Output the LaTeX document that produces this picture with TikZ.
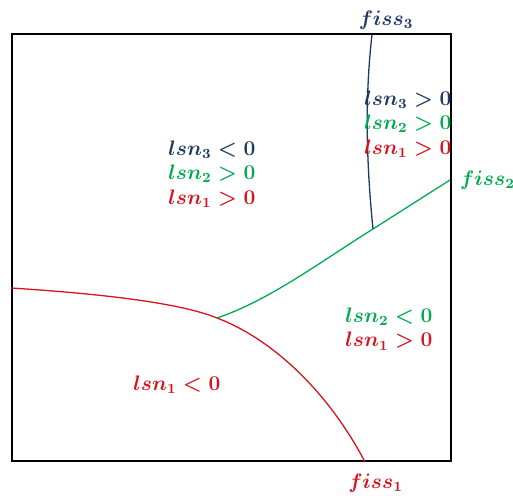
\documentclass[tikz,border=0pt]{standalone}
\usepackage{amsmath}
\usepackage{xcolor}
\usetikzlibrary{positioning}
\definecolor{fblue}{RGB}{31,56,100}
\definecolor{fgreen}{RGB}{0,170,80}
\definecolor{fred}{RGB}{215,20,30}
\tikzset{
  plate/.style  ={draw=black, line width=2pt},
  crack/.style  ={line width=1.3pt},
  lbl/.style    ={font=\large\boldmath, scale=1.75, transform shape,
                  inner sep=0.5pt, align=left},
}
\begin{document}
\begin{tikzpicture}[x=1pt, y=1pt]
    \useasboundingbox (0,0) rectangle (513,495);
    % square domain
    \node[plate, minimum width=439pt, minimum height=427pt, anchor=south west,
          inner sep=0pt] (box) at (11,33) {};

    % crack end points and junctions
    \coordinate (c1a) at (11,207);
    \coordinate (c1b) at (365,33);
    \coordinate (jA)  at (217,177);
    \coordinate (jB)  at (373,266);
    \coordinate (c2b) at (450,315);
    \coordinate (c3b) at (372,460);

    % cracks
    \draw[crack, fred]   (c1a) .. controls (120,200) and (185,190) .. (jA)
                               .. controls (275,155) and (330,100) .. (c1b);
    \draw[crack, fgreen] (jA) .. controls (270,195) and (320,233) .. (jB) -- (c2b);
    \draw[crack, fblue]  (jB) .. controls (366,335) and (365,400) .. (c3b);

    % crack names
    \node[lbl, text=fred,   below=11pt of c1b, xshift=6pt] (n1) {$fiss_1$};
    \node[lbl, text=fgreen, right=9pt of c2b] (n2) {$fiss_2$};
    \node[lbl, text=fblue,  above=4pt of c3b, xshift=8pt] (n3) {$fiss_3$};

    % level set signs
    \node[lbl] (zA) at (212,321) {\textcolor{fblue}{$lsn_3<0$}\\
        \textcolor{fgreen}{$lsn_2>0$}\\\textcolor{fred}{$lsn_1>0$}};
    \node[lbl] (zB) at (408,371) {\textcolor{fblue}{$lsn_3>0$}\\
        \textcolor{fgreen}{$lsn_2>0$}\\\textcolor{fred}{$lsn_1>0$}};
    \node[lbl] (zC) at (389,166) {\textcolor{fgreen}{$lsn_2<0$}\\
        \textcolor{fred}{$lsn_1>0$}};
    \node[lbl, text=fred] (zD) at (177,110) {$lsn_1<0$};
\end{tikzpicture}
\end{document}
